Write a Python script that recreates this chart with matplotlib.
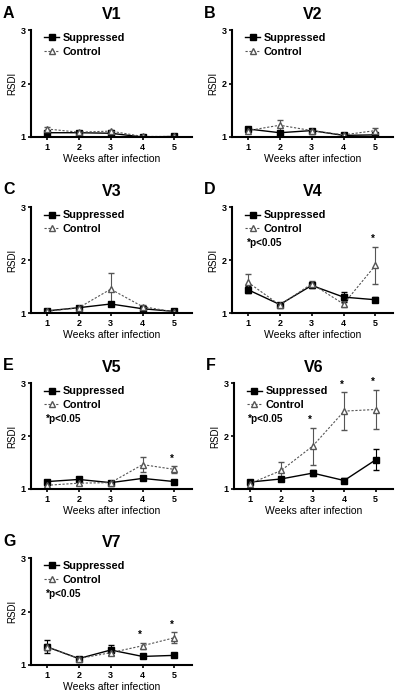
import numpy as np
import matplotlib.pyplot as plt
from matplotlib.lines import Line2D

plt.rcParams['font.family'] = ['Liberation Sans', 'DejaVu Sans']
plt.rcParams['font.weight'] = 'bold'

weeks = [1, 2, 3, 4, 5]
titles = ['V1', 'V2', 'V3', 'V4', 'V5', 'V6', 'V7']
letters = ['A', 'B', 'C', 'D', 'E', 'F', 'G']

supp = [
    [1.08, 1.08, 1.07, 1.00, 1.01],
    [1.15, 1.08, 1.12, 1.03, 1.04],
    [1.04, 1.10, 1.17, 1.08, 1.03],
    [1.44, 1.16, 1.52, 1.30, 1.25],
    [1.14, 1.18, 1.12, 1.20, 1.14],
    [1.13, 1.19, 1.30, 1.16, 1.55],
    [1.34, 1.12, 1.28, 1.16, 1.18],
]
supp_err = [
    [0.02, 0.01, 0.02, 0.01, 0.01],
    [0.02, 0.02, 0.02, 0.01, 0.02],
    [0.01, 0.01, 0.03, 0.02, 0.01],
    [0.07, 0.02, 0.04, 0.10, 0.05],
    [0.02, 0.03, 0.02, 0.03, 0.03],
    [0.04, 0.04, 0.06, 0.04, 0.20],
    [0.12, 0.02, 0.10, 0.02, 0.02],
]
ctrl = [
    [1.15, 1.09, 1.11, 1.01, 1.01],
    [1.12, 1.22, 1.12, 1.04, 1.12],
    [1.03, 1.10, 1.45, 1.12, 1.02],
    [1.58, 1.15, 1.55, 1.17, 1.90],
    [1.07, 1.11, 1.12, 1.46, 1.37],
    [1.10, 1.35, 1.81, 2.47, 2.50],
    [1.34, 1.12, 1.23, 1.36, 1.51],
]
ctrl_err = [
    [0.04, 0.02, 0.03, 0.01, 0.02],
    [0.02, 0.10, 0.02, 0.02, 0.05],
    [0.02, 0.02, 0.30, 0.03, 0.01],
    [0.16, 0.02, 0.06, 0.05, 0.35],
    [0.02, 0.03, 0.02, 0.14, 0.06],
    [0.03, 0.16, 0.35, 0.36, 0.37],
    [0.06, 0.02, 0.05, 0.06, 0.10],
]
# weeks with significant difference (index into weeks)
stars = [[], [], [], [4], [4], [2, 3, 4], [3, 4]]
show_p = [False, False, False, True, True, True, True]

# panel boxes in pixels: left, top, right, bottom
boxes = [
    (31, 30, 192, 137), (232, 30, 393, 137),
    (31, 207, 192, 313), (232, 207, 393, 313),
    (31, 383, 192, 489), (234, 383, 393, 489),
    (31, 558, 192, 665),
]

W, H = 400, 692
fig = plt.figure(figsize=(W / 100, H / 100), dpi=100)

ctrl_ls = (0, (2, 1.5))
handles = [
    Line2D([], [], color='black', lw=1.0, marker='s', ms=3.8),
    Line2D([], [], color='#555555', lw=0.8, ls=ctrl_ls, marker='^', ms=3.8,
           mfc='white', mec='#555555'),
]

for i in range(7):
    l, t, r, b = boxes[i]
    ax = fig.add_axes([l / W, 1 - b / H, (r - l) / W, (b - t) / H])
    ax.errorbar(weeks, supp[i], yerr=supp_err[i], color='black', lw=1.0,
                marker='s', ms=4.5, capsize=2, elinewidth=0.8)
    ax.errorbar(weeks, ctrl[i], yerr=ctrl_err[i], color='#555555', lw=0.8,
                ls=ctrl_ls, marker='^', ms=4.5, mfc='white', mec='#555555',
                capsize=2, elinewidth=0.8)
    for k in stars[i]:
        ax.text(weeks[k] - 0.08, ctrl[i][k] + ctrl_err[i][k] + 0.05, '*',
                ha='center', va='bottom', fontsize=7)
    ax.set_xlim(0.5, 5.55)
    ax.set_ylim(1, 3)
    ax.set_xticks(weeks)
    ax.set_yticks([1, 2, 3])
    ax.tick_params(labelsize=6.5, length=2.5, width=1.2, pad=1.5)
    for s in ['top', 'right']:
        ax.spines[s].set_visible(False)
    for s in ['left', 'bottom']:
        ax.spines[s].set_linewidth(1.5)
    ax.set_ylabel('RSDI', fontsize=7, labelpad=2)
    ax.set_xlabel('Weeks after infection', fontsize=7.5, labelpad=1.5)
    ax.set_title(titles[i], fontsize=11.5, fontweight='bold', pad=8)
    ax.legend(handles, ['Suppressed', 'Control'], loc='upper left',
              fontsize=7.8, frameon=False, handlelength=1.4,
              borderaxespad=0.2, labelspacing=0.3, handletextpad=0.3,
              bbox_to_anchor=(0.04, 1.03))
    if show_p[i]:
        ax.text(0.09, 0.665, '*p<0.05', transform=ax.transAxes,
                fontsize=7.2, va='center')
    fig.text((l - 28) / W, 1 - (t - 17) / H, letters[i], fontsize=11.5,
             fontweight='bold', va='center')

fig.savefig('out.png', dpi=100)
